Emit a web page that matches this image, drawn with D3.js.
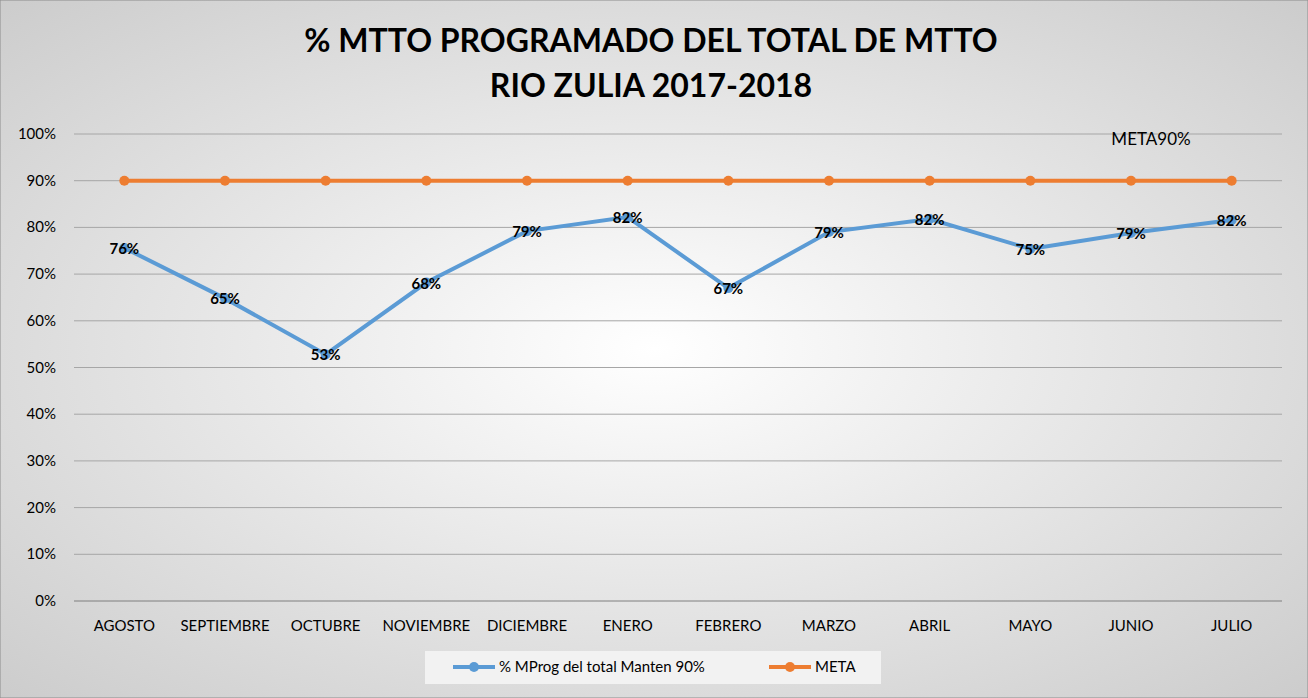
<!DOCTYPE html>
<html><head><meta charset="utf-8">
<script src="https://cdn.jsdelivr.net/npm/d3@7"></script>
<style>body{margin:0}svg{display:block}</style>
</head><body>
<svg id="chart" width="1308" height="698"></svg>
<script>
// chart data
var months = ["AGOSTO","SEPTIEMBRE","OCTUBRE","NOVIEMBRE","DICIEMBRE","ENERO","FEBRERO","MARZO","ABRIL","MAYO","JUNIO","JULIO"];
var mprog = [0.756, 0.648, 0.528, 0.682, 0.792, 0.822, 0.670, 0.790, 0.818, 0.754, 0.788, 0.816];
var meta = [0.9, 0.9, 0.9, 0.9, 0.9, 0.9, 0.9, 0.9, 0.9, 0.9, 0.9, 0.9];
var yTicks = [0, 0.1, 0.2, 0.3, 0.4, 0.5, 0.6, 0.7, 0.8, 0.9, 1.0];

var svg = d3.select("#chart");
var font = "Lato, 'Liberation Sans', sans-serif";

// background gradient
var defs = svg.append("defs");
var grad = defs.append("radialGradient").attr("id", "bg").attr("cx", "50%").attr("cy", "50%").attr("r", "75%");
grad.append("stop").attr("offset", "0%").attr("stop-color", "#ffffff");
grad.append("stop").attr("offset", "100%").attr("stop-color", "#c9c9c9");
svg.append("rect").attr("width", 1308).attr("height", 698).attr("fill", "url(#bg)").attr("stroke", "#8c8c8c");

var x = d3.scaleBand().domain(months).range([74, 1282]);
var y = d3.scaleLinear().domain([0, 1]).range([601, 134]);
var cx = d => x(d) + x.bandwidth() / 2;

// gridlines
svg.append("g").selectAll("line").data(yTicks).join("line")
    .attr("x1", 74).attr("x2", 1282)
    .attr("y1", d => y(d)).attr("y2", d => y(d))
    .attr("stroke", d => d === 0 ? "#7f7f7f" : "#a6a6a6").attr("stroke-width", 1);

svg.append("g").selectAll("text").data(yTicks).join("text")
    .attr("x", 56).attr("y", d => y(d) + 5).attr("text-anchor", "end")
    .attr("font-family", font).attr("font-size", 15).attr("fill", "#000")
    .text(d => Math.round(d * 100) + "%");

svg.append("g").selectAll("text").data(months).join("text")
    .attr("x", d => cx(d)).attr("y", 631).attr("text-anchor", "middle")
    .attr("font-family", font).attr("font-size", 15).attr("fill", "#000")
    .text(d => d);

// title
svg.append("text").attr("x", 651).attr("y", 52).attr("text-anchor", "middle")
    .attr("font-family", font).attr("font-weight", "bold").attr("font-size", 32)
    .text("% MTTO PROGRAMADO DEL TOTAL DE MTTO");
svg.append("text").attr("x", 651).attr("y", 97).attr("text-anchor", "middle")
    .attr("font-family", font).attr("font-weight", "bold").attr("font-size", 32)
    .text("RIO ZULIA 2017-2018");

var line = d3.line().x((d, i) => cx(months[i])).y(d => y(d));

// meta series
svg.append("path").datum(meta).attr("d", line).attr("fill", "none")
    .attr("stroke", "#ed7d31").attr("stroke-width", 4);
svg.append("g").selectAll("circle").data(meta).join("circle")
    .attr("cx", (d, i) => cx(months[i])).attr("cy", d => y(d)).attr("r", 5).attr("fill", "#ed7d31");

// mprog series
svg.append("path").datum(mprog).attr("d", line).attr("fill", "none")
    .attr("stroke", "#5b9bd5").attr("stroke-width", 4);
svg.append("g").selectAll("circle").data(mprog).join("circle")
    .attr("cx", (d, i) => cx(months[i])).attr("cy", d => y(d)).attr("r", 5).attr("fill", "#5b9bd5");
svg.append("g").selectAll("text").data(mprog).join("text")
    .attr("x", (d, i) => cx(months[i])).attr("y", d => y(d) + 6).attr("text-anchor", "middle")
    .attr("font-family", font).attr("font-weight", "bold").attr("font-size", 15)
    .text(d => Math.round(d * 100) + "%");

svg.append("text").attr("x", 1151).attr("y", 145).attr("text-anchor", "middle")
    .attr("font-family", font).attr("font-size", 17).text("META90%");

// legend
var lg = svg.append("g");
lg.append("rect").attr("x", 425).attr("y", 651).attr("width", 456).attr("height", 33).attr("fill", "#f2f2f2");
lg.append("line").attr("x1", 453).attr("x2", 495).attr("y1", 667).attr("y2", 667).attr("stroke", "#5b9bd5").attr("stroke-width", 4);
lg.append("circle").attr("cx", 474).attr("cy", 667).attr("r", 5).attr("fill", "#5b9bd5");
lg.append("text").attr("x", 499).attr("y", 672).attr("font-family", font).attr("font-size", 15).text("% MProg del total Manten 90%");
lg.append("line").attr("x1", 769).attr("x2", 811).attr("y1", 667).attr("y2", 667).attr("stroke", "#ed7d31").attr("stroke-width", 4);
lg.append("circle").attr("cx", 790).attr("cy", 667).attr("r", 5).attr("fill", "#ed7d31");
lg.append("text").attr("x", 815).attr("y", 672).attr("font-family", font).attr("font-size", 15).text("META");
</script>
</body></html>
